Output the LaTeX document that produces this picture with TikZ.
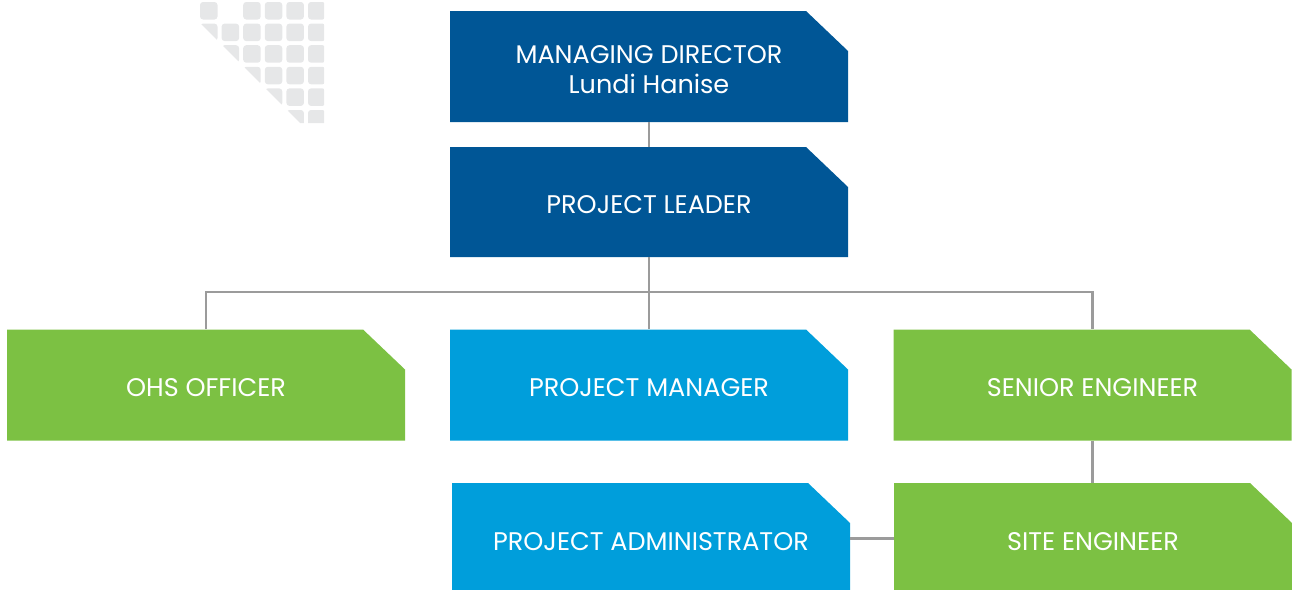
\documentclass[tikz,border=0pt]{standalone}
\usepackage{fontspec}
\setmainfont{Poppins}
\definecolor{darkblue}{RGB}{0,86,150}
\definecolor{lightblue}{RGB}{0,158,219}
\definecolor{leafgreen}{RGB}{124,193,67}
\definecolor{gridgrey}{RGB}{230,231,232}
\definecolor{linegrey}{RGB}{155,155,155}
\newcommand{\boxline}[2][23.5pt]{\raisebox{0pt}[#1][0pt]{#2}}
\begin{document}
\begin{tikzpicture}[x=1pt,y=-1pt,
  orgbox/.style={minimum width=398pt, minimum height=111pt, inner sep=0pt,
    text=white, align=center, font=\fontsize{25.5}{30}\selectfont,
    path picture={\fill[#1] (path picture bounding box.south west) --
      (path picture bounding box.north west) --
      ([xshift=-42pt]path picture bounding box.north east) --
      ([yshift=-40pt]path picture bounding box.north east) --
      (path picture bounding box.south east) -- cycle;}},
  conn/.style={draw=linegrey, line width=2.4pt}]
\useasboundingbox (0,0) rectangle (1292,589);
% decorative grid
\begin{scope}
\clip (195,0) -- (324,0) -- (324,123) -- (300,123) -- (195,18) -- cycle;
\foreach \c in {0,2,3,4,5}
  \fill[gridgrey, rounded corners=3pt] (200+21.6*\c, 2) rectangle ++(17.5,17.5);
\foreach \r in {1,...,5}
  \foreach \c in {0,...,5}
    \fill[gridgrey, rounded corners=3pt] (200+21.6*\c, 2+21.6*\r) rectangle ++(17.5,17.5);
\end{scope}
% boxes
\node[orgbox=darkblue] (md) at (649,66.5) {\boxline[24.5pt]{MANAGING DIRECTOR}\\Lundi Hanise};
\node[orgbox=darkblue, minimum height=110pt] (pl) at (649,202) {\boxline{PROJECT LEADER}};
\node[orgbox=leafgreen] (ohs) at (206,385) {\boxline{OHS OFFICER}};
\node[orgbox=lightblue] (pm) at (649,385) {\boxline{PROJECT MANAGER}};
\node[orgbox=leafgreen] (se) at (1092.5,385) {\boxline{SENIOR ENGINEER}};
\node[orgbox=lightblue] (pa) at (651,538.5) {\boxline{PROJECT ADMINISTRATOR}};
\node[orgbox=leafgreen] (site) at (1093,538.5) {\boxline{SITE ENGINEER}};
% connectors
\draw[conn] (md.south) -- (pl.north);
\draw[conn] (pl.south) -- ++(0,35) coordinate (bus);
\draw[conn] (ohs.north) |- (bus) -| (se.north);
\draw[conn] (bus) -- (pm.north);
\draw[conn] (se.south) -- (se.south |- site.north);
\draw[conn] (pa.east) -- (site.west);
\end{tikzpicture}
\end{document}
